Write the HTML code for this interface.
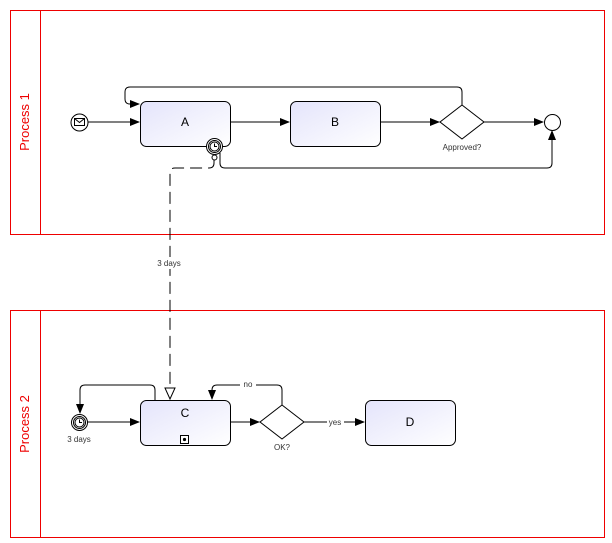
<!DOCTYPE html><html><head><style>body{margin:0;background:#fff}svg{display:block}text{font-family:"Liberation Sans",sans-serif}</style></head><body>
<svg width="612" height="543" xmlns="http://www.w3.org/2000/svg">
<defs>
<linearGradient id="g" x1="0" y1="0" x2="1" y2="1"><stop offset="0" stop-color="#e4e4fb"/><stop offset="1" stop-color="#ffffff"/></linearGradient>
<marker id="a" markerWidth="10" markerHeight="8" refX="9" refY="4" orient="auto" markerUnits="userSpaceOnUse"><path d="M0,0 L10,4 L0,8z" fill="#000"/></marker>
</defs>
<g fill="none" stroke="#e00" stroke-width="1">
<rect x="10.5" y="10.5" width="594" height="224"/><line x1="40.5" y1="10" x2="40.5" y2="235"/>
<rect x="10.5" y="310.5" width="594" height="227"/><line x1="40.5" y1="310" x2="40.5" y2="538"/>
</g>
<text x="29" y="122" transform="rotate(-90 29 122)" text-anchor="middle" fill="#e00" font-size="13">Process 1</text>
<text x="29" y="424" transform="rotate(-90 29 424)" text-anchor="middle" fill="#e00" font-size="13">Process 2</text>
<g stroke="#000" fill="none" stroke-width="1">
<path d="M88,122H139" marker-end="url(#a)"/>
<path d="M230,122H289" marker-end="url(#a)"/>
<path d="M380,122H439" marker-end="url(#a)"/>
<path d="M484,122H543" marker-end="url(#a)"/>
<path d="M462,105V92Q462,87 457,87H130Q125,87 125,92V99Q125,104 130,104H139" marker-end="url(#a)"/>
<path d="M220,153V163Q220,168 225,168H547Q552,168 552,163V131" marker-end="url(#a)"/>
<path d="M214,160V163Q214,168 209,168H175Q170,168 170,173V388" stroke-dasharray="12,6"/>
<path d="M165,388L170,399L175,388Z" fill="#fff"/>
<path d="M87,422H139" marker-end="url(#a)"/>
<path d="M155,400V390Q155,385 150,385H85Q80,385 80,390V413" marker-end="url(#a)"/>
<path d="M230,422H259" marker-end="url(#a)"/>
<path d="M304,422H364" marker-end="url(#a)"/>
<path d="M282,405V390Q282,385 277,385H217Q212,385 212,390V399" marker-end="url(#a)"/>
</g>
<g stroke="#000" fill="url(#g)">
<rect x="140.5" y="101.5" width="90" height="45" rx="6"/>
<rect x="290.5" y="101.5" width="90" height="45" rx="6"/>
<rect x="140.5" y="400.5" width="90" height="45" rx="6"/>
<rect x="365.5" y="400.5" width="90" height="45" rx="6"/>
</g>
<g stroke="#000" fill="#fff">
<path d="M462,105L484,122L462,139L440,122Z"/>
<path d="M282,405L304,422L282,439L260,422Z"/>
<circle cx="552.5" cy="122.5" r="8"/>
<circle cx="79.5" cy="122.5" r="8.5"/>
<rect x="74.5" y="118.5" width="10" height="7"/>
<path d="M74.5,118.5L79.5,122.5L84.5,118.5" fill="none"/>
<circle cx="214.5" cy="146.5" r="8"/><circle cx="214.5" cy="146.5" r="6"/><circle cx="214.5" cy="146.5" r="4.5"/>
<path d="M214.5,143.5V146.5H217" fill="none"/>
<circle cx="214.5" cy="157.5" r="2.5"/>
<circle cx="79.5" cy="422.5" r="8"/><circle cx="79.5" cy="422.5" r="6"/><circle cx="79.5" cy="422.5" r="4.5"/>
<path d="M79.5,419.5V422.5H82" fill="none"/>
<rect x="180.5" y="435.5" width="8" height="8"/>
</g>
<circle cx="184.5" cy="439.5" r="1.6" fill="#000"/>
<rect x="240" y="379" width="16" height="10" fill="#fff"/>
<rect x="327" y="417" width="17" height="10" fill="#fff"/>
<rect x="150" y="257" width="38" height="12" fill="#fff"/>
<g font-size="12" text-anchor="middle">
<text x="185" y="126">A</text><text x="335" y="126">B</text>
<text x="185" y="417">C</text><text x="410" y="426">D</text>
</g>
<g font-size="8" text-anchor="middle" fill="#333">
<text x="462" y="150">Approved?</text>
<text x="169" y="266">3 days</text>
<text x="79" y="442">3 days</text>
<text x="282" y="450">OK?</text>
<text x="248" y="387">no</text>
<text x="335" y="425">yes</text>
</g>
</svg></body></html>
